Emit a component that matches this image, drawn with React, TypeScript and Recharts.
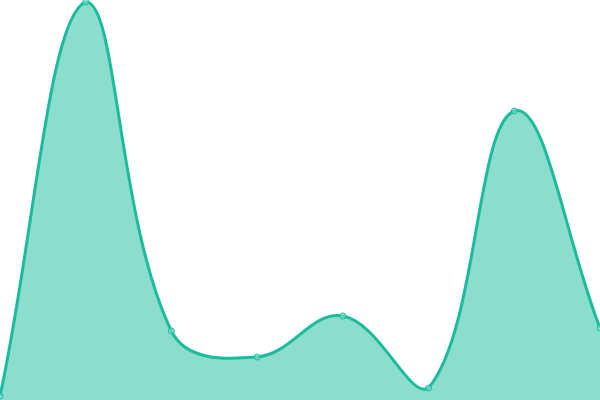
import React from "react";
import { AreaChart, Area, XAxis, YAxis } from "recharts";

const categories = ["A", "B", "C", "D", "E", "F", "G", "H"];
const values = [4, 398, 69, 43, 84, 12, 289, 72];

const data = categories.map((c, i) => ({ name: c, value: values[i] }));

const TENSION = 0.4;
const AREA = { left: 0, top: 0, right: 600, bottom: 400 };

function clamp(v: number, lo: number, hi: number) {
  return Math.max(lo, Math.min(hi, v));
}

class SplineCurve {
  _context: any;
  _line: number = NaN;
  _pts: [number, number][] = [];
  constructor(context: any) {
    this._context = context;
  }
  areaStart() {
    this._line = 0;
  }
  areaEnd() {
    this._line = NaN;
  }
  lineStart() {
    this._pts = [];
  }
  point(x: number, y: number) {
    this._pts.push([+x, +y]);
  }
  lineEnd() {
    const p = this._pts;
    const n = p.length;
    const ctx = this._context;
    if (n) {
      if (this._line) ctx.lineTo(p[0][0], p[0][1]);
      else ctx.moveTo(p[0][0], p[0][1]);
      const cps: { px: number; py: number; nx: number; ny: number }[] = [];
      for (let i = 0; i < n; i++) {
        const cur = p[i];
        const prev = i > 0 ? p[i - 1] : cur;
        const next = i < n - 1 ? p[i + 1] : cur;
        const d01 = Math.hypot(cur[0] - prev[0], cur[1] - prev[1]);
        const d12 = Math.hypot(next[0] - cur[0], next[1] - cur[1]);
        let s01 = d01 / (d01 + d12);
        let s12 = d12 / (d01 + d12);
        if (isNaN(s01)) s01 = 0;
        if (isNaN(s12)) s12 = 0;
        const fa = TENSION * s01;
        const fb = TENSION * s12;
        cps.push({
          px: clamp(cur[0] - fa * (next[0] - prev[0]), AREA.left, AREA.right),
          py: clamp(cur[1] - fa * (next[1] - prev[1]), AREA.top, AREA.bottom),
          nx: clamp(cur[0] + fb * (next[0] - prev[0]), AREA.left, AREA.right),
          ny: clamp(cur[1] + fb * (next[1] - prev[1]), AREA.top, AREA.bottom),
        });
      }
      for (let i = 1; i < n; i++) {
        ctx.bezierCurveTo(cps[i - 1].nx, cps[i - 1].ny, cps[i].px, cps[i].py, p[i][0], p[i][1]);
      }
    }
    if (this._line || (this._line !== 0 && n === 1)) ctx.closePath();
    this._line = 1 - this._line;
  }
}

const splineFactory: any = (context: any) => new SplineCurve(context);

export default function App() {
  return (
    <div style={{ position: "absolute", left: 0, top: 0, width: 600, height: 400 }}>
      <style>{"body{margin:0}"}</style>
      <AreaChart width={600} height={400} data={data} margin={{ top: 0, right: 0, bottom: 0, left: 0 }}>
        <XAxis dataKey="name" hide padding={{ left: 0, right: 0 }} />
        <YAxis hide domain={[0, 400]} />
        <Area
          type={splineFactory}
          dataKey="value"
          stroke="#1abc9c"
          strokeWidth={3}
          fill="#1abc9c"
          fillOpacity={0.5}
          dot={{ r: 3, fill: "#8ee0cf", stroke: "#1abc9c", strokeWidth: 1 }}
          activeDot={false}
          isAnimationActive={false}
        />
      </AreaChart>
    </div>
  );
}
